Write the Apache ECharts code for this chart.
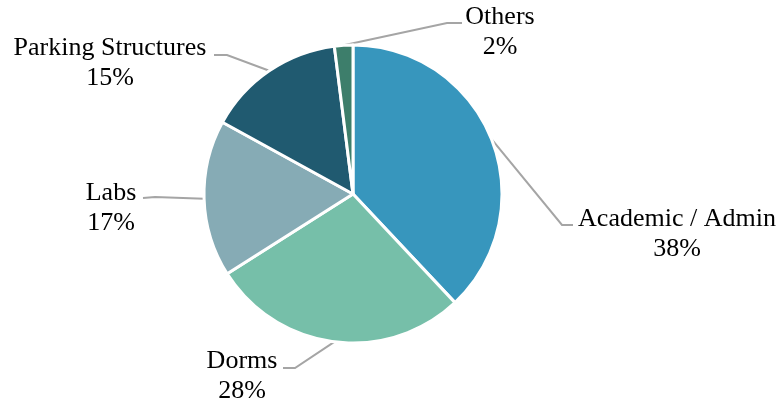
<!DOCTYPE html>
<html>
<head>
<meta charset="utf-8">
<script src="https://cdn.jsdelivr.net/npm/echarts@6/dist/echarts.min.js"></script>
<style>
  html, body { margin: 0; padding: 0; background: #ffffff; }
  #chart { width: 783px; height: 406px; }
</style>
</head>
<body>
<div id="chart"></div>
<script>
// Share of campus floor area by building type
const categories = ['Academic / Admin', 'Dorms', 'Labs', 'Parking Structures', 'Others'];
const shares = [38, 28, 17, 15, 2];
const sliceColors = ['#3796bd', '#76bfa9', '#86abb5', '#205a70', '#3d7e6b'];

// Where each label block sits, and the elbow / end of its leader line
const labelAnchors = [
  { x: 677, y: 234, elbow: [562, 225], end: [573, 225] },
  { x: 242, y: 376, elbow: [295, 368], end: [283, 368] },
  { x: 111, y: 208, elbow: [155, 197], end: [143, 198] },
  { x: 110, y: 63,  elbow: [227, 55],  end: [214, 55] },
  { x: 500, y: 32,  elbow: [447, 23],  end: [462, 23] }
];

const chart = echarts.init(document.getElementById('chart'), null, { renderer: 'canvas' });

chart.setOption({
  animation: false,
  backgroundColor: '#ffffff',
  series: [{
    type: 'pie',
    center: [353, 194],
    radius: 149,
    startAngle: 90,
    clockwise: true,
    avoidLabelOverlap: false,
    silent: true,
    itemStyle: { borderColor: '#ffffff', borderWidth: 3 },
    label: {
      show: true,
      formatter: '{b}\n{d}%',
      fontFamily: '"Liberation Serif", "Times New Roman", serif',
      fontSize: 26,
      lineHeight: 30,
      color: '#000000',
      align: 'center'
    },
    labelLine: {
      show: true,
      length: 20,
      length2: 10,
      lineStyle: { color: '#a5a5a5', width: 2 }
    },
    labelLayout: function (params) {
      const a = labelAnchors[params.dataIndex];
      const start = params.labelLinePoints ? params.labelLinePoints[0] : a.elbow;
      return {
        x: a.x,
        y: a.y,
        align: 'center',
        verticalAlign: 'middle',
        labelLinePoints: [start, a.elbow, a.end]
      };
    },
    data: categories.map((name, i) => ({
      name: name,
      value: shares[i],
      itemStyle: { color: sliceColors[i] }
    }))
  }]
});
</script>
</body>
</html>
